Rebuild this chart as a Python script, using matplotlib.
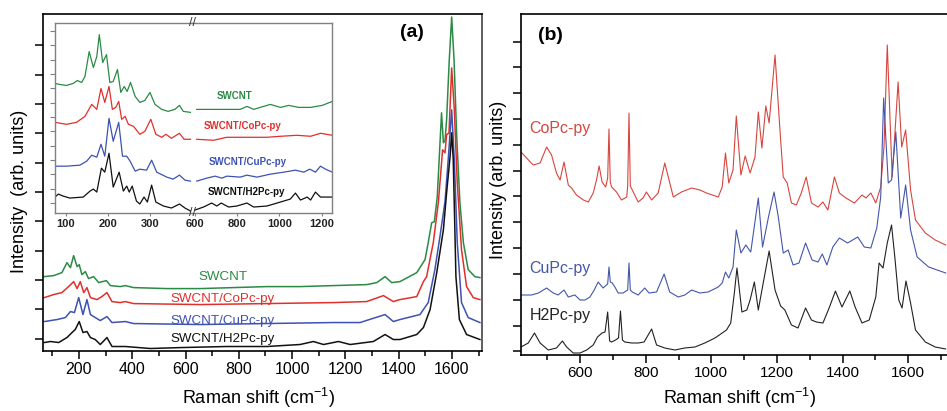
import matplotlib
matplotlib.use("Agg")
import matplotlib.pyplot as plt
from matplotlib.ticker import MultipleLocator, FixedLocator

plt.rcParams['font.family'] = ['Liberation Sans', 'DejaVu Sans']
plt.rcParams['mathtext.default'] = 'regular'

# ---- panel (a), main plot: Raman shift (cm-1) vs stacked intensity (arb. units)
a_swcnt_x = [70, 105, 136, 155, 168, 180, 193, 201, 211, 224, 236, 255, 274, 303, 318, 355, 374, 405,
             530, 655, 780, 905, 1030, 1155, 1280, 1318, 1349, 1374,
             1405, 1468, 1499, 1511, 1524, 1534, 1545, 1552, 1561, 1568, 1574, 1580, 1590, 1599, 1608,
             1618, 1630, 1643, 1661, 1686, 1705]
a_swcnt_y = [74, 75, 78, 88, 83, 95, 84, 86, 76, 79, 72, 74, 68, 70, 65, 64, 65, 63,
             62, 62, 63, 64, 64, 65, 66, 68, 74, 68,
             69, 78, 91, 108, 128, 129, 154, 191, 238, 208, 210, 231, 291, 334, 291,
             214, 148, 108, 81, 74, 73]

a_copc_x = [70, 105, 136, 161, 180, 193, 205, 218, 230, 243, 268, 286, 305, 324, 355, 374, 405, 655,
            905, 1155, 1280, 1343, 1380,
            1405, 1468, 1493, 1505, 1530, 1549, 1565, 1574, 1580, 1589, 1599, 1609, 1620, 1636, 1655,
            1680, 1705]
a_copc_y = [53, 56, 58, 64, 69, 62, 69, 58, 63, 53, 51, 54, 58, 49, 48, 49, 47, 46,
            47, 48, 49, 55, 49,
            51, 54, 69, 74, 108, 148, 201, 198, 216, 218, 283, 241, 168, 101, 64,
            53, 51]

a_cupc_x = [70, 118, 149, 168, 183, 199, 215, 230, 243, 261, 280, 305, 324, 374, 405, 655, 905, 1155,
            1255, 1349, 1380,
            1405, 1480, 1511, 1536, 1555, 1574, 1586, 1599, 1609, 1620, 1636, 1661, 1705]
a_cupc_y = [29, 31, 33, 39, 38, 53, 36, 51, 36, 33, 30, 34, 28, 29, 27, 26, 27, 28,
            28, 36, 29,
            31, 36, 48, 81, 114, 149, 191, 241, 191, 108, 48, 33, 28]

a_h2pc_x = [70, 93, 124, 155, 174, 186, 201, 215, 230, 243, 261, 280, 305, 324, 374, 468, 593, 755,
            905, 1030, 1080, 1118, 1174, 1218, 1305, 1349, 1380,
            1405, 1468, 1493, 1518, 1543, 1568, 1580, 1593, 1599, 1605, 1615, 1628, 1655, 1705]
a_h2pc_y = [8, 9, 8, 13, 18, 21, 29, 18, 19, 13, 11, 6, 13, 4, 4, 2, 3, 4,
            4, 6, 9, 6, 9, 6, 9, 16, 11,
            11, 16, 23, 41, 78, 121, 158, 194, 218, 191, 74, 31, 16, 11]

a_labels = ["SWCNT", "SWCNT/CoPc-py", "SWCNT/CuPc-py", "SWCNT/H2Pc-py"]

# ---- panel (a), inset: low-frequency part (left) and 600-1250 part (right)
in_swcnt_lx = [75, 87, 102, 118, 128, 138, 146, 156, 166, 174, 180, 188, 197, 205, 213, 223, 231, 239,
               246, 254, 265, 276, 288, 300, 312, 328, 343, 359, 370, 379, 396]
in_swcnt_ly = [129, 128, 127, 129, 132, 130, 136, 161, 145, 156, 178, 150, 158, 130, 131, 143, 120, 126,
               121, 130, 116, 110, 112, 120, 108, 103, 101, 103, 107, 101, 100]
in_swcnt_rx = [608, 687, 751, 814, 846, 878, 925, 957, 1005, 1044, 1092, 1148, 1203, 1251]
in_swcnt_ry = [103, 103, 103, 103, 106, 103, 106, 108, 105, 107, 105, 105, 107, 111]

in_copc_lx = [75, 102, 126, 146, 162, 174, 184, 193, 203, 211, 219, 226, 233, 241, 249, 261, 276, 288,
              302, 314, 328, 338, 351, 370, 381, 396]
in_copc_ly = [90, 88, 90, 96, 108, 103, 124, 110, 126, 103, 105, 111, 93, 96, 88, 86, 78, 81,
              93, 78, 75, 78, 74, 79, 73, 73]
in_copc_rx = [608, 687, 751, 846, 941, 1005, 1084, 1148, 1195, 1251]
in_copc_ry = [73, 72, 75, 75, 75, 76, 77, 76, 79, 77]

in_cupc_lx = [75, 102, 134, 150, 162, 174, 184, 193, 203, 213, 226, 235, 245, 253, 265, 276, 292, 304,
              316, 340, 355, 370, 383, 396]
in_cupc_ly = [46, 46, 47, 51, 57, 55, 68, 56, 94, 71, 90, 56, 56, 51, 41, 43, 42, 52,
              40, 35, 33, 37, 32, 31]
in_cupc_rx = [608, 656, 695, 727, 751, 814, 846, 894, 957, 1021, 1076, 1116, 1144, 1171, 1195, 1219, 1251]
in_cupc_ry = [31, 34, 36, 34, 36, 35, 37, 35, 38, 40, 42, 40, 43, 40, 46, 43, 40]

in_h2pc_lx = [75, 83, 94, 110, 142, 158, 166, 174, 185, 193, 203, 213, 227, 237, 245, 251, 258, 268,
              276, 286, 294, 304, 314, 332, 351, 370, 383, 396]
in_h2pc_ly = [15, 18, 16, 14, 15, 21, 23, 20, 44, 40, 59, 25, 40, 21, 26, 20, 26, 11,
              8, 15, 10, 27, 10, 6, 4, 8, 4, 1]
in_h2pc_rx = [600, 640, 679, 703, 724, 759, 798, 846, 878, 941, 1005, 1052, 1076, 1100, 1132, 1148,
              1171, 1195, 1251]
in_h2pc_ry = [2, 5, 9, 6, 9, 5, 6, 9, 5, 6, 10, 13, 19, 12, 15, 12,
              20, 15, 15]

# ---- panel (b): pyridine phthalocyanines
b_copc_x = [420, 437, 457, 478, 498, 513, 528, 539, 551, 564,
            574, 589, 610, 625, 640, 650, 658, 667, 678, 684,
            688, 692, 696, 711, 726, 742, 745, 749, 753, 762,
            777, 792, 802, 818, 838, 858, 871, 884, 909, 940,
            965, 985, 1021, 1033, 1043, 1053, 1066, 1076, 1090, 1103,
            1118, 1133, 1143, 1154, 1166, 1176, 1194, 1209, 1219, 1231,
            1244, 1259, 1274, 1289, 1305, 1325, 1340, 1355, 1375, 1390,
            1410, 1436, 1459, 1471, 1486, 1501, 1516, 1526, 1536, 1551,
            1569, 1580, 1592, 1607, 1622, 1652, 1682, 1714]
b_copc_y = [202, 196, 189, 191, 207, 199, 181, 174, 192, 169,
            166, 159, 154, 152, 161, 174, 188, 172, 167, 176,
            225, 172, 167, 162, 154, 157, 168, 241, 168, 162,
            152, 156, 162, 154, 161, 191, 174, 157, 162, 166,
            164, 161, 157, 167, 201, 171, 184, 238, 179, 198,
            181, 197, 242, 206, 248, 231, 299, 224, 177, 171,
            151, 149, 161, 177, 151, 147, 152, 144, 177, 161,
            156, 151, 159, 156, 161, 151, 167, 207, 309, 177,
            272, 207, 224, 164, 134, 121, 114, 109]

b_cupc_x = [420, 452, 473, 498, 518, 533, 551, 564, 584, 600,
            615, 630, 643, 655, 670, 684, 688, 692, 698, 706,
            716, 731, 745, 749, 753, 759, 777, 797, 810, 833,
            856, 873, 899, 919, 940, 965, 990, 1021, 1033, 1043,
            1053, 1066, 1076, 1090, 1105, 1120, 1143, 1156, 1174, 1191,
            1204, 1219, 1234, 1249, 1267, 1287, 1307, 1325, 1338, 1352,
            1370, 1390, 1415, 1446, 1466, 1486, 1504, 1516, 1525, 1539,
            1549, 1562, 1577, 1592, 1607, 1627, 1662, 1714]
b_cupc_y = [59, 59, 61, 66, 61, 59, 64, 57, 59, 54,
            54, 57, 64, 72, 66, 70, 87, 72, 71, 67,
            61, 61, 64, 91, 64, 62, 59, 66, 61, 62,
            80, 62, 57, 59, 64, 61, 62, 67, 71, 82,
            76, 87, 124, 101, 109, 102, 156, 107, 137, 162,
            137, 101, 104, 89, 91, 111, 94, 92, 100, 89,
            107, 116, 111, 117, 107, 106, 126, 157, 256, 171,
            174, 222, 136, 169, 124, 97, 87, 81]

b_h2pc_x = [420, 442, 461, 478, 503, 528, 546, 559, 579, 600,
            620, 640, 653, 667, 676, 684, 690, 696, 708, 717,
            723, 729, 736, 757, 777, 795, 818, 833, 858, 889,
            919, 950, 980, 1011, 1033, 1046, 1059, 1070, 1078, 1093,
            1108, 1118, 1131, 1143, 1158, 1176, 1194, 1211, 1224, 1244,
            1264, 1287, 1305, 1320, 1340, 1360, 1378, 1398, 1422, 1438,
            1459, 1481, 1501, 1511, 1523, 1536, 1549, 1559, 1571, 1581,
            1593, 1607, 1622, 1652, 1682, 1714]
b_h2pc_y = [7, 11, 21, 11, 4, 6, 13, 7, 1, 1,
            4, 9, 17, 21, 22, 42, 13, 12, 14, 16,
            43, 14, 12, 11, 11, 12, 25, 9, 6, 4,
            6, 7, 11, 16, 21, 24, 31, 61, 86, 42,
            44, 54, 72, 44, 71, 103, 64, 48, 44, 29,
            26, 46, 34, 32, 31, 47, 63, 47, 63, 47,
            31, 34, 57, 91, 86, 111, 129, 97, 54, 46,
            73, 51, 24, 12, 7, 5]

b_labels = ["CoPc-py", "CuPc-py", "H2Pc-py"]

GREEN = "#2b8a45"
RED = "#e0302c"
BLUE = "#3d52b2"
BLACK = "#111111"

W, H = 947, 411
fig = plt.figure(figsize=(W / 100, H / 100), dpi=100)


def px_box(left, top, right, bottom):
    return [left / W, 1 - bottom / H, (right - left) / W, (bottom - top) / H]


# ---------------- panel (a)
ax = fig.add_axes(px_box(43, 14, 481.5, 351))
ax.plot(a_swcnt_x, a_swcnt_y, color=GREEN, lw=1.1)
ax.plot(a_copc_x, a_copc_y, color=RED, lw=1.1)
ax.plot(a_cupc_x, a_cupc_y, color=BLUE, lw=1.1)
ax.plot(a_h2pc_x, a_h2pc_y, color=BLACK, lw=1.1)
ax.set_xlim(65, 1711)
ax.set_ylim(-0.5, 337)
for s in ax.spines.values():
    s.set_linewidth(1.2)
ax.spines['right'].set_color("#444444")
ax.xaxis.set_major_locator(MultipleLocator(200))
ax.xaxis.set_minor_locator(MultipleLocator(100))
ax.yaxis.set_major_locator(FixedLocator([11.7 + 29.4 * k for k in range(11)]))
ax.tick_params(axis='x', which='major', direction='out', length=6, width=1.1, labelsize=11.5, pad=2)
ax.tick_params(axis='x', which='minor', direction='out', length=3.5, width=1.1)
ax.tick_params(axis='y', which='major', direction='out', length=6, width=1.1, labelleft=False)
ax.set_xlabel("Raman shift (cm$^{-1}$)", fontsize=13, va='center')
ax.xaxis.set_label_coords(0.492, -0.138)
ax.set_ylabel("Intensity  (arb. units)", fontsize=13, va='center')
ax.yaxis.set_label_coords(-0.054, 0.475)
ax.text(1450, 318, "(a)", fontsize=14, fontweight='bold', ha='center', va='center')
for lab, col, yy in zip(a_labels, [GREEN, RED, BLUE, BLACK], [74, 52, 30, 12]):
    ax.text(740, yy, lab, color=col, fontsize=9.6, ha='center', va='center')

# ---------------- inset of (a), broken x axis
FRAME = "#808080"
axl = fig.add_axes(px_box(55, 22.7, 191.7, 213))
axr = fig.add_axes(px_box(191.7, 22.7, 332.3, 213))
for a_in, xs, ys in [(axl, [in_swcnt_lx, in_copc_lx, in_cupc_lx, in_h2pc_lx],
                      [in_swcnt_ly, in_copc_ly, in_cupc_ly, in_h2pc_ly]),
                     (axr, [in_swcnt_rx, in_copc_rx, in_cupc_rx, in_h2pc_rx],
                      [in_swcnt_ry, in_copc_ry, in_cupc_ry, in_h2pc_ry])]:
    for x, y, col in zip(xs, ys, [GREEN, RED, BLUE, BLACK]):
        a_in.plot(x, y, color=col, lw=0.9)
    a_in.set_ylim(-1, 190)
    for s in a_in.spines.values():
        s.set_color(FRAME)
        s.set_linewidth(1.0)
    a_in.tick_params(axis='x', direction='out', length=2, color=FRAME, labelsize=8, pad=2,
                     labelcolor="#222222")
axl.set_xlim(75, 399)
axr.set_xlim(584, 1251)
axl.set_xticks([100, 200, 300])
axr.set_xticks([600, 800, 1000, 1200])
for a_in in (axl, axr):
    for t in a_in.get_xticklabels():
        t.set_fontweight('bold')
axl.spines['right'].set_visible(False)
axr.spines['left'].set_visible(False)
axl.yaxis.set_major_locator(FixedLocator([9 + 14.4 * k for k in range(13)]))
axl.tick_params(axis='y', direction='out', length=3.5, color=FRAME, labelleft=False)
axr.tick_params(axis='y', left=False, labelleft=False)
for ypx in (22.7, 213):
    fig.text(192.5 / W, 1 - ypx / H, "//", fontsize=9, color="#333333", ha='center', va='center')
for lab, col, xx, yy in zip(a_labels, [GREEN, RED, BLUE, BLACK], [789, 825, 851, 845],
                            [116, 86, 50, 20]):
    axr.text(xx, yy, lab, color=col, fontsize=7, fontweight='bold', ha='center', va='center',
             clip_on=False)

# ---------------- panel (b)
bx = fig.add_axes(px_box(520.7, 14.5, 947, 354.5))
bx.plot(b_copc_x, b_copc_y, color="#d8453e", lw=0.8)
bx.plot(b_cupc_x, b_cupc_y, color="#4456aa", lw=0.8)
bx.plot(b_h2pc_x, b_h2pc_y, color="#222222", lw=0.8)
bx.set_xlim(419, 1718)
bx.set_ylim(-0.5, 339.5)
bx.spines['right'].set_visible(False)
for s in bx.spines.values():
    s.set_linewidth(1.2)
bx.xaxis.set_major_locator(MultipleLocator(200))
bx.xaxis.set_minor_locator(MultipleLocator(100))
bx.yaxis.set_major_locator(FixedLocator([2.7 + 25.8 * k for k in range(13)]))
bx.tick_params(axis='x', which='major', direction='out', length=6, width=1.1, labelsize=11, pad=2)
bx.tick_params(axis='x', which='minor', direction='out', length=3.5, width=1.1)
bx.tick_params(axis='y', which='major', direction='out', length=6, width=1.1, labelleft=False)
bx.set_xlabel("Raman shift (cm$^{-1}$)", fontsize=13, va='center')
bx.xaxis.set_label_coords(0.514, -0.128)
bx.set_ylabel("Intensity (arb. units)", fontsize=13, va='center')
bx.yaxis.set_label_coords(-0.052, 0.513)
bx.text(509, 319, "(b)", fontsize=14, fontweight='bold', ha='center', va='center')
for lab, col, yy in zip(b_labels, ["#d8453e", "#4456aa", "#222222"], [226, 86, 39]):
    bx.text(446, yy, lab, color=col, fontsize=11.5, ha='left', va='center')

fig.savefig("out.png", dpi=100)
